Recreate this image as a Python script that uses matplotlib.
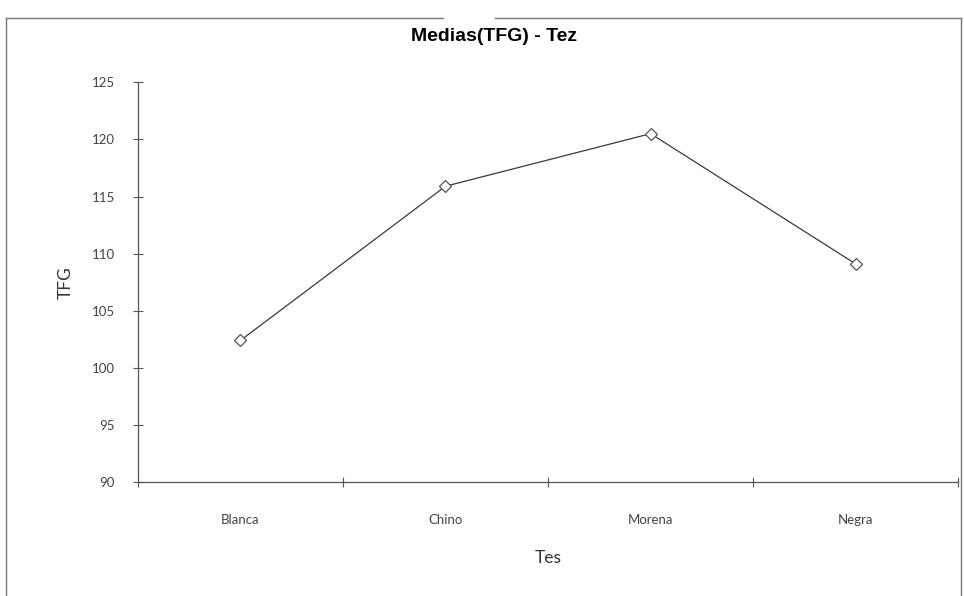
import numpy as np
import matplotlib.pyplot as plt
from matplotlib.lines import Line2D

# mean TFG by skin tone
categorias = ["Blanca", "Chino", "Morena", "Negra"]
tfg_medias = [102.4, 115.9, 120.5, 109.1]
y_ticks = [90, 95, 100, 105, 110, 115, 120, 125]

plt.rcParams['font.family'] = ['Lato', 'DejaVu Sans']

fig = plt.figure(figsize=(9.64, 5.96), dpi=100)
ax = fig.add_axes([0.143, 0.191, 0.851, 0.671])

x = np.arange(len(categorias))
ax.plot(x, tfg_medias, color='#3a3a3a', linewidth=0.9,
        marker='D', markersize=6.5, markerfacecolor='white',
        markeredgecolor='#555555', markeredgewidth=0.9)

ax.set_xlim(-0.5, len(categorias) - 0.5)
ax.set_ylim(90, 125)
ax.set_yticks(y_ticks)
ax.set_yticklabels([str(v) for v in y_ticks])

# category labels centred, ticks on the boundaries
ax.set_xticks(x)
ax.set_xticklabels(categorias)
ax.set_xticks(np.arange(-0.5, len(categorias)), minor=True)
ax.tick_params(axis='x', which='major', length=0, pad=23,
               labelsize=9.5, labelcolor='#444444')
ax.tick_params(axis='x', which='minor', direction='inout', length=7,
               width=0.8, color='#555555')
ax.tick_params(axis='y', direction='inout', length=7, width=0.8,
               color='#555555', pad=13, labelsize=9.5, labelcolor='#444444')

for side in ['top', 'right']:
    ax.spines[side].set_visible(False)
for side in ['left', 'bottom']:
    ax.spines[side].set_color('#555555')
    ax.spines[side].set_linewidth(0.9)

ax.set_ylabel("TFG", fontsize=12.5, color='#333333', labelpad=13)
ax.set_xlabel("Tes", fontsize=12.5, color='#333333', labelpad=17)

fig.text(0.512, 0.939, "Medias(TFG) - Tez", ha='center', va='center',
         fontsize=14, fontweight='bold',
         family=['Liberation Sans Narrow', 'Liberation Sans', 'DejaVu Sans'])

# outer chart frame (bottom edge falls outside the image)
frame = dict(color='#777777', linewidth=1.0)
fig.add_artist(Line2D([0.006, 0.006], [0.0, 0.97], **frame))
fig.add_artist(Line2D([0.997, 0.997], [0.0, 0.97], **frame))
fig.add_artist(Line2D([0.006, 0.46], [0.97, 0.97], **frame))
fig.add_artist(Line2D([0.513, 0.997], [0.97, 0.97], **frame))

fig.savefig("out.png", dpi=100)
